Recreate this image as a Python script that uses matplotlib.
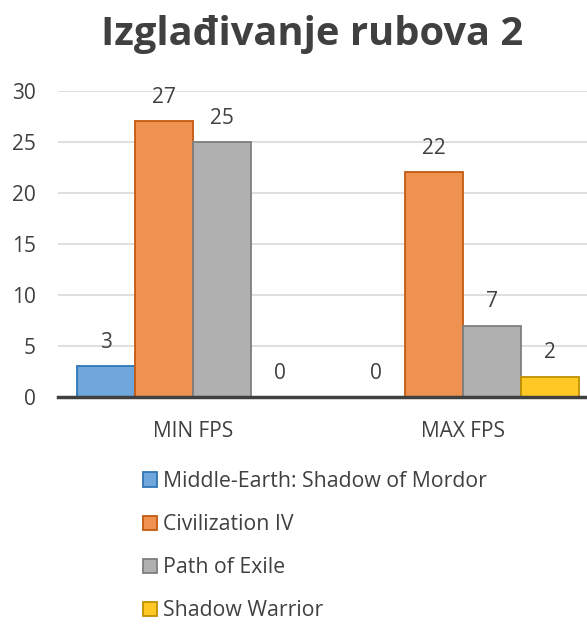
import matplotlib
matplotlib.use("Agg")
import matplotlib.pyplot as plt
import numpy as np
from matplotlib.patches import Patch

title = "Izglađivanje rubova 2"
categories = ["MIN FPS", "MAX FPS"]
series_names = ["Middle-Earth: Shadow of Mordor", "Civilization IV", "Path of Exile", "Shadow Warrior"]
middle_earth = [3, 0]
civilization = [27, 22]
path_of_exile = [25, 7]
shadow_warrior = [0, 2]
yticks = [0, 5, 10, 15, 20, 25, 30]

series_values = [middle_earth, civilization, path_of_exile, shadow_warrior]
fills = ["#6FA6DB", "#EF9150", "#B0B0B0", "#FFC824"]
edges = ["#2E75B6", "#C55A11", "#7F7F7F", "#BF9000"]

plt.rcParams['font.family'] = ['Open Sans', 'DejaVu Sans']
txt = "#404040"
fs = 15

fig = plt.figure(figsize=(5.87, 6.25), dpi=100)
ax = fig.add_axes([58/587, (625-397)/625, 540/587, (397-90.7)/625])

x = np.arange(len(categories))
w = 0.215
for i, (vals, fc, ec) in enumerate(zip(series_values, fills, edges)):
    pos = x + (i - 1.5) * w
    ax.bar(pos, vals, width=w, color=fc, edgecolor=ec, linewidth=1.3, zorder=3)
    for p, v in zip(pos, vals):
        ax.annotate(str(v), (p, v), xytext=(0, 17), textcoords="offset points",
                    ha="center", va="center", fontsize=fs, color=txt)

ax.set_xlim(-0.5, 1.5)
ax.set_ylim(0, 30)
ax.set_yticks(yticks)
ax.set_yticklabels([str(t) for t in yticks], fontsize=fs, color=txt)
ax.set_xticks(x)
ax.set_xticklabels(categories, fontsize=fs, color=txt)
ax.tick_params(axis="x", length=0, pad=17)
ax.tick_params(axis="y", length=0, pad=16)
ax.grid(axis="y", color="#D9D9D9", linewidth=1.2, zorder=0)
for s in ["top", "right", "left"]:
    ax.spines[s].set_visible(False)
ax.spines["bottom"].set_color("#404040")
ax.spines["bottom"].set_linewidth(2.5)
ax.spines["bottom"].set_zorder(4)

fig.text(312/587, 1 - 35/625, title, ha="center", va="center", fontsize=28.7, fontweight="bold", color=txt)

handles = [Patch(facecolor=fc, edgecolor=ec, linewidth=1.3) for fc, ec in zip(fills, edges)]
leg = fig.legend(handles, series_names, loc="upper left", bbox_to_anchor=(143/587, 1 - 471/625),
                 frameon=False, fontsize=15.3, labelcolor=txt, handlelength=0.65, handleheight=0.65,
                 handletextpad=0.3, labelspacing=1.04, borderpad=0, borderaxespad=0)

fig.savefig("out.png", dpi=100)
